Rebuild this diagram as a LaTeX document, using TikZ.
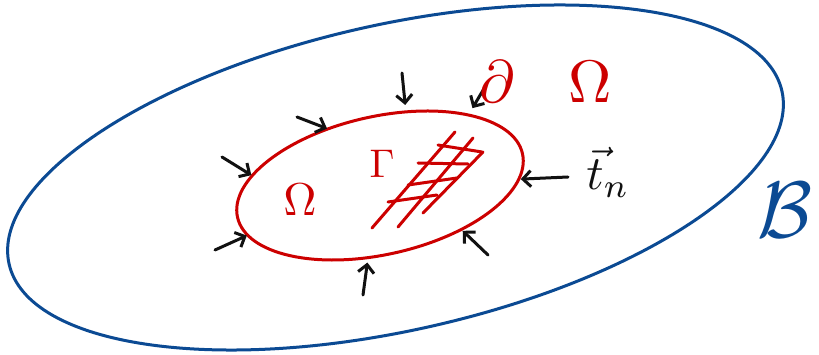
\documentclass[tikz,border=0pt]{standalone}
\usepackage{amsmath}
\usetikzlibrary{arrows.meta,shapes.geometric}
\definecolor{ink}{HTML}{111111}
\definecolor{pen}{HTML}{CC0000}
\definecolor{navy}{HTML}{0B4A93}
\tikzset{
  rim/.style={ellipse, draw=#1, line width=3pt, inner sep=0pt, outer sep=0pt, rotate=12.6},
  push/.style={-{Straight Barb[length=8pt,width=16pt]}, line width=3pt, color=ink, line cap=round},
  hatch/.style={line width=3pt, color=pen, line cap=round},
  lbl/.style={text=#1, inner sep=0pt},
}

\begin{document}
\begin{tikzpicture}[x=1pt,y=-1pt]
  \useasboundingbox (0,0) rectangle (819,355);
  \node[rim=navy, minimum width=792, minimum height=306] (body) at (395.5,177.5) {};
  \node[rim=pen, minimum width=292, minimum height=138] (om) at (380,185.5) {};
  % tractions on the boundary
  \foreach \nm/\px/\py/\ang/\gap in {a/402/73/58/7, b/485/87/26/8, c/297/117/120/1, d/222/157/163/1,
                                     e/215/250/188/1, f/363/295/248/5, g/488/255/319/2, h/568/177/350/2} {
    \coordinate (\nm) at (\px,\py);
    \draw[push, shorten >=\gap pt] (\nm) -- (om.\ang);
  }
  % cut surface
  \foreach \sx/\sy/\ex/\ey in {372/228/455/132, 398/227/473/138, 423/213/483/152,
                               438/145/482/152, 418/163/468/164, 408/185/457/178, 388/202/437/195}
    \draw[hatch] (\sx,\sy) -- (\ex,\ey);
  \node[lbl=pen, scale=6] (bnd) at (546,82) {$\partial\hspace{0.9em}\Omega$};
  \node[lbl=pen, scale=4.6] (dom) at (300,200) {$\Omega$};
  \node[lbl=pen, scale=4] (cut) at (382,164) {$\Gamma$};
  \node[lbl=ink, scale=4.8] (trac) at (608,172) {$\vec{t}_n$};
  \node[lbl=navy, scale=8] (bdy) at (785,210) {$\mathcal{B}$};
\end{tikzpicture}
\end{document}
